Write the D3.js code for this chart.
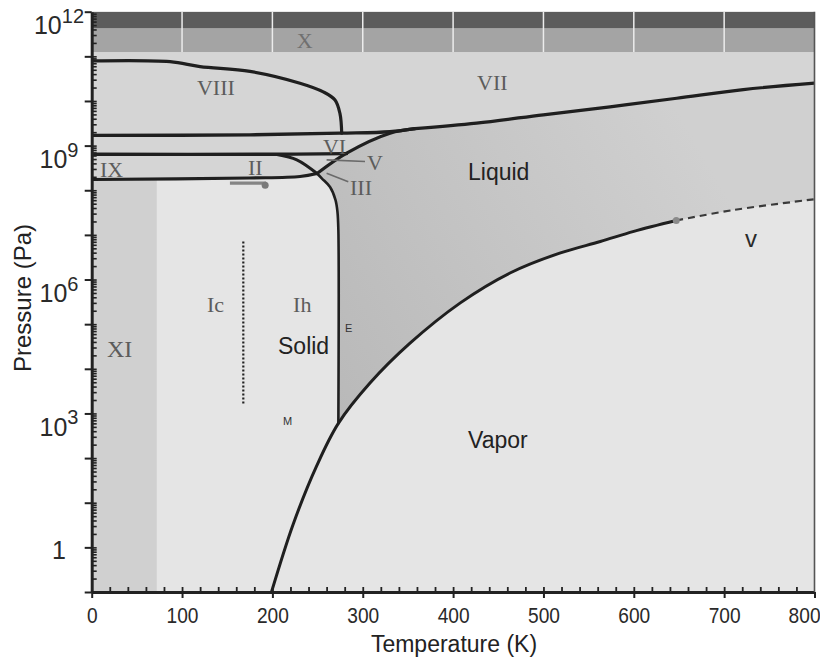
<!DOCTYPE html>
<html>
<head>
<script src="https://d3js.org/d3.v7.min.js"></script>
<title>Water phase diagram</title>
<style>
  body { margin: 0; background: #fff; }
  text { font-family: "Liberation Sans", Arial, sans-serif; }
</style>
</head>
<body>
<svg width="820" height="658"></svg>
<script>
// ---- data (T in K, P in Pa) ----
const vaporT = [199, 223, 249, 273, 308, 352, 408, 463, 518, 563, 600, 647];
const vaporP = [0.1, 3.3, 67, 600, 4.8e3, 3.7e4, 3.0e5, 1.4e6, 3.9e6, 7.1e6, 1.2e7, 2.1e7];
const superT = [647, 710, 800];
const superP = [2.1e7, 3.6e7, 6.3e7];
const meltT = [273, 273, 272, 269.8, 263.8, 254.9, 249.4];
const meltP = [600, 1.29e7, 3.3e7, 6.1e7, 1.18e8, 1.83e8, 2.37e8];
const lineET = [0, 175, 230.6, 249.4];              // Ih / II
const lineEP = [1.74e8, 1.88e8, 2.03e8, 2.37e8];
const lineDT = [205, 227, 249.4];                   // II / III
const lineDP = [6.3e8, 4.8e8, 2.37e8];
const lineBT = [0, 200, 282];                       // IX-II / VI
const lineBP = [6.4e8, 6.4e8, 6.6e8];
const lineCT = [249.4, 282.2, 330.2, 357.8];        // melting of III, V, VI
const lineCP = [2.37e8, 6.8e8, 1.9e9, 2.4e9];
const lineAT = [0, 175, 275, 330, 357.8];           // VI / VIII
const lineAP = [1.7e9, 1.74e9, 1.9e9, 2.05e9, 2.4e9];
const viiiT = [0, 86.7, 119.9, 175.2, 230.5, 256.3, 269.3, 274.8, 276.7];
const viiiP = [7.9e10, 7.6e10, 5.9e10, 4.6e10, 2.5e10, 1.6e10, 1.05e10, 5.2e9, 1.9e9];
const viiT = [357.8, 426, 499.8, 573.7, 647.5, 721.2, 800];
const viiP = [2.4e9, 3.2e9, 4.9e9, 7.4e9, 1.15e10, 1.8e10, 2.5e10];
const bandP = [1e12, 4.3e11, 1.25e11];
const bandGridT = [100, 200, 300, 400, 500, 600, 700];
const xiBandT = [0, 72];
const icIhT = 167.8, icIhP = [7.1e6, 1.55e3];
const markT = [153, 193], markP = 1.45e8, markDot = [192, 1.29e8];
const critPoint = [647, 2.1e7];
const leaders = [[[260, 4.8e8], [302.5, 4.4e8]], [[260, 2.4e8], [284, 1.55e8]]];
const romanLabels = [
  ["X", 227, 1.55e11], ["VIII", 116.5, 1.35e10], ["VII", 426.5, 1.78e10],
  ["IX", 9.2, 2.0e8], ["II", 173, 2.19e8], ["VI", 256, 6.5e8],
  ["V", 304.7, 2.8e8], ["III", 285.9, 7.8e7], ["Ic", 127.6, 1.86e5],
  ["Ih", 222.9, 1.86e5], ["XI", 16.9, 1.8e4]
];
const phaseLabels = [["Liquid", 416.5, 1.7e8], ["Solid", 206.2, 2.2e4], ["Vapor", 416.5, 170]];
const smallLabels = [["E", 280.3, 6.8e4], ["M", 211.7, 550]];
const xTicks = [0, 100, 200, 300, 400, 500, 600, 700, 800];
const yLabelVals = [1, 1e3, 1e6, 1e9, 1e12];
const yLabelExp = ["", "3", "6", "9", "12"];

const svg = d3.select("svg");
const x = d3.scaleLinear().domain([0, 800]).range([91.7, 814.5]);
const y = d3.scaleLog().domain([0.1, 1e12]).range([592, 11.7]);

const pts = (Ts, Ps) => Ts.map((t, i) => [x(t), y(Array.isArray(Ps) ? Ps[i] : Ps)]);
const line = d3.line().curve(d3.curveCatmullRom.alpha(0.5));
function joinPath(segs) {
  return segs.map((s, i) => i ? line(s).replace(/^M/, "L") : line(s)).join("") + "Z";
}

const vap = pts(vaporT, vaporP), sup = pts(superT, superP), melt = pts(meltT, meltP);
const lE = pts(lineET, lineEP), lD = pts(lineDT, lineDP), lB = pts(lineBT, lineBP);
const lC = pts(lineCT, lineCP), lA = pts(lineAT, lineAP), l8 = pts(viiiT, viiiP), l7 = pts(viiT, viiP);
const rev = a => a.slice().reverse();

const defs = svg.append("defs");
defs.append("clipPath").attr("id", "plot").append("rect")
  .attr("x", x(0)).attr("y", y(1e12)).attr("width", x(800) - x(0)).attr("height", y(0.1) - y(1e12));
const grad = defs.append("linearGradient").attr("id", "liq").attr("gradientUnits", "userSpaceOnUse")
  .attr("x1", x(273)).attr("y1", y(1e3)).attr("x2", x(700)).attr("y2", y(1e8));
grad.append("stop").attr("offset", 0).attr("stop-color", "#b9b9b9");
grad.append("stop").attr("offset", 1).attr("stop-color", "#d0d0d0");

const g = svg.append("g").attr("clip-path", "url(#plot)");

// background fills
g.append("rect").attr("x", x(0)).attr("y", y(1e12)).attr("width", x(800) - x(0))
  .attr("height", y(0.1) - y(1e12)).attr("fill", "#e5e5e5");
g.append("path").attr("fill", "#d5d5d5")
  .attr("d", joinPath([pts([0, 800], [1e12, 1e12]), rev(l7), rev(lC), rev(lE)]));
g.append("rect").attr("x", x(xiBandT[0])).attr("y", y(lineEP[0]))
  .attr("width", x(xiBandT[1]) - x(xiBandT[0])).attr("height", y(0.1) - y(lineEP[0]))
  .attr("fill", "#d0d0d0");
g.append("path").attr("fill", "url(#liq)")
  .attr("d", joinPath([melt, lC, l7, rev(sup), rev(vap.slice(3))]));

// top bands
g.append("rect").attr("x", x(0)).attr("y", y(bandP[0])).attr("width", x(800) - x(0))
  .attr("height", y(bandP[2]) - y(bandP[0])).attr("fill", "#a4a4a4");
g.append("rect").attr("x", x(0)).attr("y", y(bandP[0])).attr("width", x(800) - x(0))
  .attr("height", y(bandP[1]) - y(bandP[0])).attr("fill", "#5c5c5c");
g.selectAll(".bandgrid").data(bandGridT).join("line")
  .attr("x1", d => x(d)).attr("x2", d => x(d)).attr("y1", y(bandP[0])).attr("y2", y(bandP[2]))
  .attr("stroke", "#ececec").attr("stroke-width", 1.5);

// phase boundaries
const thick = [[lE, 3.2], [lD, 3], [lB, 3.4], [lC, 3.2], [lA, 3.4], [l8, 3.2], [l7, 3.2], [vap, 3], [melt, 2.6]];
thick.forEach(([p, w]) => {
  g.append("path").attr("d", line(p)).attr("fill", "none").attr("stroke", "#1f1f1f")
    .attr("stroke-width", w).attr("stroke-linejoin", "round").attr("stroke-linecap", "round");
});
g.append("path").attr("d", line(sup)).attr("fill", "none").attr("stroke", "#3a3a3a")
  .attr("stroke-width", 2.2).attr("stroke-dasharray", "7,5");
g.append("line").attr("x1", x(icIhT)).attr("x2", x(icIhT)).attr("y1", y(icIhP[0])).attr("y2", y(icIhP[1]))
  .attr("stroke", "#222").attr("stroke-width", 2.2).attr("stroke-dasharray", "2,2");
g.append("line").attr("x1", x(markT[0])).attr("x2", x(markT[1])).attr("y1", y(markP)).attr("y2", y(markP))
  .attr("stroke", "#858585").attr("stroke-width", 3.2);
g.append("circle").attr("cx", x(markDot[0])).attr("cy", y(markDot[1])).attr("r", 3.5).attr("fill", "#7a7a7a");
g.append("circle").attr("cx", x(critPoint[0])).attr("cy", y(critPoint[1])).attr("r", 3.5).attr("fill", "#8a8a8a");
g.selectAll(".leader").data(leaders).join("line")
  .attr("x1", d => x(d[0][0])).attr("y1", d => y(d[0][1]))
  .attr("x2", d => x(d[1][0])).attr("y2", d => y(d[1][1]))
  .attr("stroke", "#6a6a6a").attr("stroke-width", 1.6);

// labels
g.selectAll(".roman").data(romanLabels).join("text")
  .attr("x", d => x(d[1])).attr("y", d => y(d[2])).text(d => d[0])
  .style("font-family", "'Liberation Serif', 'DejaVu Serif', serif")
  .style("font-size", d => d[0] === "XI" ? "24px" : "22px")
  .attr("fill", d => d[0] === "X" ? "#707070" : "#5c5c5c");
g.selectAll(".phase").data(phaseLabels).join("text")
  .attr("x", d => x(d[1])).attr("y", d => y(d[2])).text(d => d[0])
  .style("font-size", "23px").attr("fill", "#222");
g.selectAll(".small").data(smallLabels).join("text")
  .attr("x", d => x(d[1])).attr("y", d => y(d[2])).text(d => d[0])
  .style("font-size", "11px").attr("fill", "#333");
g.append("text").attr("x", x(723)).attr("y", y(5.4e6)).text("v")
  .style("font-size", "24px").attr("fill", "#2a2a2a");

// axes
const minorX = d3.range(20, 800, 20);
const majorY = d3.range(-1, 13).map(e => Math.pow(10, e));
const minorY = [];
for (let e = -1; e < 12; e++) for (let k = 1; k < 10; k++) minorY.push(k * Math.pow(10, e));

const xAxis = svg.append("g").attr("transform", `translate(0,${y(0.1)})`)
  .call(d3.axisBottom(x).tickValues(xTicks).tickSize(6).tickSizeOuter(0));
xAxis.select(".domain").attr("stroke", "#222").attr("stroke-width", 3);
xAxis.selectAll(".tick line").attr("stroke", "#222").attr("stroke-width", 2);
xAxis.selectAll(".tick text").attr("y", 31).attr("dy", null)
  .attr("x", d => d === 800 ? -12 : 0)
  .attr("transform", "scale(0.87,1)").style("font-size", "22px").attr("fill", "#2a2a2a");
const xMinor = svg.append("g").attr("transform", `translate(0,${y(0.1)})`)
  .call(d3.axisTop(x).tickValues(minorX).tickSize(5).tickFormat(""));
xMinor.select(".domain").remove();
xMinor.selectAll(".tick line").attr("stroke", "#222").attr("stroke-width", 1.8);

const yAxis = svg.append("g").attr("transform", `translate(${x(0)},0)`)
  .call(d3.axisLeft(y).tickValues(majorY).tickSize(7).tickSizeOuter(0).tickFormat(""));
yAxis.select(".domain").attr("stroke", "#222").attr("stroke-width", 3);
yAxis.selectAll(".tick line").attr("stroke", "#222").attr("stroke-width", 2);
const yMinor = svg.append("g").attr("transform", `translate(${x(0)},0)`)
  .call(d3.axisRight(y).tickValues(minorY).tickSize(5).tickFormat(""));
yMinor.select(".domain").remove();
yMinor.selectAll(".tick line").attr("stroke", "#222").attr("stroke-width", 1.6);

svg.append("line").attr("x1", x(800)).attr("x2", x(800)).attr("y1", y(1e12)).attr("y2", y(0.1))
  .attr("stroke", "#555").attr("stroke-width", 1.6);

const yl = svg.append("g").selectAll("text").data(yLabelVals).join("text")
  .attr("x", 59).attr("y", d => y(d) + (d === 1 ? 12 : 22.5))
  .attr("text-anchor", "middle").style("font-size", "25px").attr("fill", "#2a2a2a");
yl.each(function(d, i) {
  const t = d3.select(this);
  if (!yLabelExp[i]) { t.text("1"); return; }
  t.append("tspan").text("10");
  t.append("tspan").attr("dy", -11.5).style("font-size", "20px").text(yLabelExp[i]);
});

svg.append("text").attr("x", 454).attr("y", 652).attr("text-anchor", "middle")
  .style("font-size", "23px").attr("fill", "#222").text("Temperature (K)");
svg.append("text").attr("transform", "translate(31,298) rotate(-90)").attr("text-anchor", "middle")
  .style("font-size", "24px").attr("fill", "#222").text("Pressure (Pa)");
</script>
</body>
</html>
